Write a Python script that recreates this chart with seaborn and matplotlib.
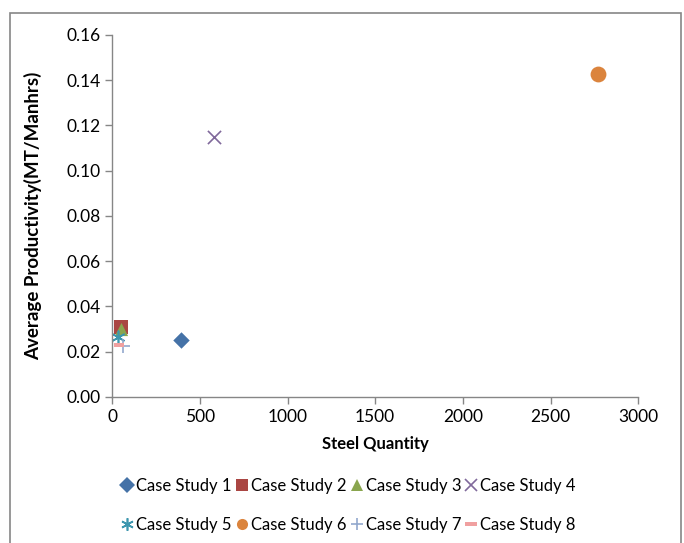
import matplotlib
matplotlib.use("Agg")
import matplotlib.pyplot as plt
import seaborn as sns
from matplotlib.path import Path
from matplotlib.patches import Rectangle
from matplotlib.lines import Line2D

sns.set_style("white")
plt.rcParams['font.family'] = ['Lato', 'DejaVu Sans']
plt.rcParams['text.color'] = 'black'
plt.rcParams['axes.labelcolor'] = 'black'
plt.rcParams['xtick.color'] = 'black'
plt.rcParams['ytick.color'] = 'black'

series = ["Case Study 1", "Case Study 2", "Case Study 3", "Case Study 4",
          "Case Study 5", "Case Study 6", "Case Study 7", "Case Study 8"]
steel_qty = [390, 50, 52, 580, 35, 2770, 62, 40]
productivity = [0.025, 0.031, 0.030, 0.115, 0.0265, 0.1425, 0.0225, 0.023]

colors = ["#4572A7", "#AA4643", "#89A54E", "#80699B",
          "#3D96AE", "#DB843D", "#92A8CD", "#F0A0A0"]
dash = Path([(-1, -0.35), (1, -0.35), (1, 0.35), (-1, 0.35), (-1, -0.35)])
markers = ["D", "s", "^", "x", (6, 2, 0), "o", "+", dash]
sizes = [70, 110, 90, 90, 80, 130, 110, 60]


def is_line_art(m):
    return isinstance(m, tuple) or m in ("x", "+") if not isinstance(m, Path) else False


fig = plt.figure(figsize=(6.84, 5.43), dpi=100)
ax = fig.add_axes([0.164, 0.269, 0.769, 0.667])

for name, x, y, c, m, s in zip(series, steel_qty, productivity, colors, markers, sizes):
    la = is_line_art(m)
    sns.scatterplot(x=[x], y=[y], ax=ax, color=c, marker=m, s=s,
                    linewidth=1.2 if la else 0,
                    edgecolor=None if la else c,
                    label=name, legend=False)

ax.set_xlim(0, 3000)
ax.set_ylim(0, 0.16)
ax.set_xticks(range(0, 3001, 500))
ax.set_yticks([i * 0.02 for i in range(9)])
ax.set_yticklabels([f"{i*0.02:.2f}" for i in range(9)])
ax.tick_params(axis='both', which='both', direction='out', length=5, width=1,
               color='#868686', labelsize=12.5, bottom=True, left=True)
for side in ("top", "right"):
    ax.spines[side].set_visible(False)
for side in ("left", "bottom"):
    ax.spines[side].set_color('#868686')
    ax.spines[side].set_linewidth(1)

ax.set_xlabel("Steel Quantity", fontsize=12, fontweight='bold', labelpad=8)
ax.set_ylabel("Average Productivity(MT/Manhrs)", fontsize=13.5, fontweight='bold', labelpad=17)

handles = []
for name, c, m in zip(series, colors, markers):
    la = is_line_art(m)
    handles.append(Line2D([], [], linestyle='none', marker=m, color=c,
                          markersize=9 if la else 8,
                          markeredgewidth=1.2 if la else 0,
                          label=name))
order = [0, 4, 1, 5, 2, 6, 3, 7]
fig.legend(handles=[handles[i] for i in order], loc='center', bbox_to_anchor=(0.508, 0.069), ncol=4,
           frameon=False, fontsize=12, handletextpad=0.05, columnspacing=0.1,
           handlelength=1.0, labelspacing=1.4)

fig.patches.append(Rectangle((10 / 684, -0.1), 671 / 684, 1.076, transform=fig.transFigure,
                             fill=False, edgecolor='#868686', linewidth=1.2))

fig.savefig("out.png", dpi=100)
